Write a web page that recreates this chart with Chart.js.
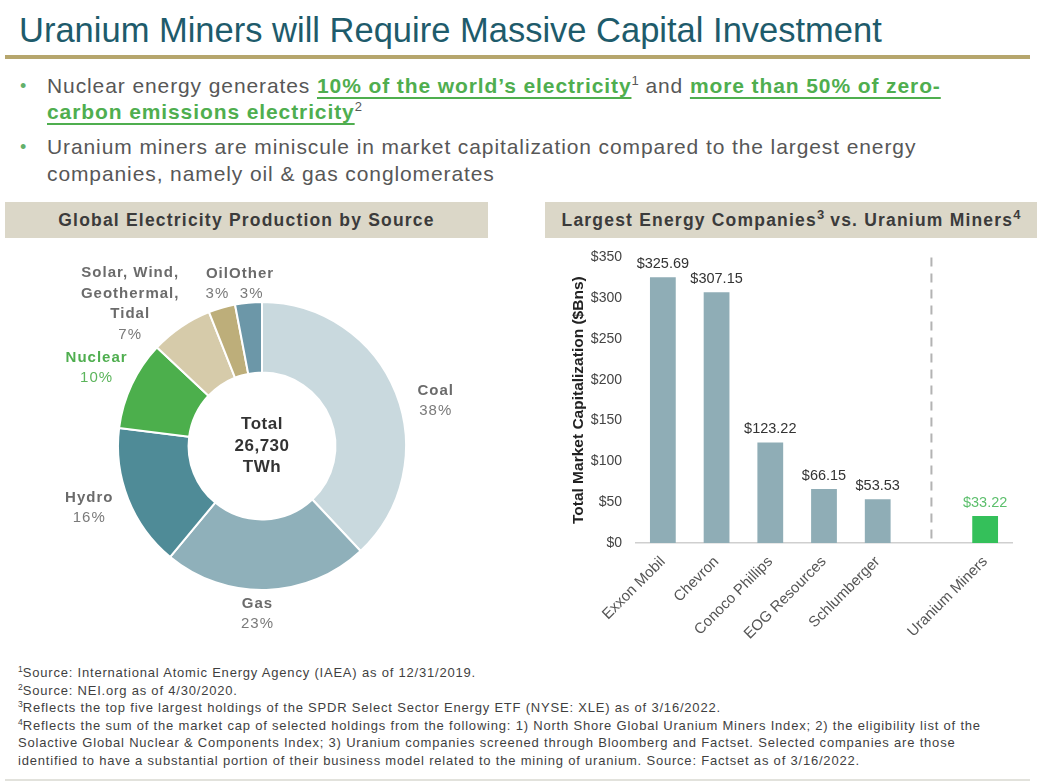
<!DOCTYPE html>
<html>
<head>
<meta charset="utf-8">
<script src="https://cdn.jsdelivr.net/npm/chart.js@4.4.0/dist/chart.umd.min.js"></script>
<style>
  body { margin: 0; background: #fff; font-family: "Liberation Sans", Arial, sans-serif; }
  #page { position: relative; width: 1048px; height: 782px; overflow: hidden; }
  .abs { position: absolute; white-space: nowrap; }
  #title { left: 19px; top: 10px; font-size: 34.5px; line-height: 40px; color: #1e5b6b; }
  #rule { left: 5px; top: 55px; width: 1025px; height: 4px; background: #b6a66d; }
  .bl { left: 47px; font-size: 21px; line-height: 26px; color: #575757; letter-spacing: 0.9px; }
  .dot { left: 20px; font-size: 18px; line-height: 26px; color: #63b06b; }
  .hl { color: #4fae4f; font-weight: bold; text-decoration: underline; text-decoration-thickness: 2px; text-underline-offset: 4px; }
  sup { font-size: 13px; line-height: 0; letter-spacing: 0; }
  .hdr { top: 202px; height: 36px; line-height: 36px; background: #dbd7c8; text-align: center;
         font-weight: bold; font-size: 17.5px; color: #3b3b3b; letter-spacing: 1.2px; }
  #notes { left: 18px; top: 664px; font-size: 13px; line-height: 17.5px; color: #3f3f3f; letter-spacing: 0.8px; }
  #notes sup { font-size: 8.5px; }
  #botline { left: 5px; top: 779px; width: 1025px; height: 2px; background: #e2e2dc; }
</style>
</head>
<body>
<div id="page">
  <div id="title" class="abs">Uranium Miners will Require Massive Capital Investment</div>
  <div id="rule" class="abs"></div>

  <div class="abs dot" style="top:73px">•</div>
  <div class="abs bl" style="top:73px">Nuclear energy generates <span class="hl">10% of the world’s electricity</span><sup>1</sup> and <span class="hl">more than 50% of zero-</span></div>
  <div class="abs bl" style="top:99px"><span class="hl">carbon emissions electricity</span><sup>2</sup></div>
  <div class="abs dot" style="top:134px">•</div>
  <div class="abs bl" style="top:134px">Uranium miners are miniscule in market capitalization compared to the largest energy</div>
  <div class="abs bl" style="top:161px">companies, namely oil &amp; gas conglomerates</div>

  <div class="abs hdr" style="left:5px;width:483px">Global Electricity Production by Source</div>
  <div class="abs hdr" style="left:545px;width:492px">Largest Energy Companies<sup>3</sup> vs. Uranium Miners<sup>4</sup></div>

  <div class="abs" style="left:0;top:240px;width:530px;height:410px"><canvas id="donut"></canvas></div>
  <div class="abs" style="left:555px;top:235px;width:475px;height:410px"><canvas id="bars"></canvas></div>

  <div id="notes" class="abs"><sup>1</sup>Source: International Atomic Energy Agency (IAEA) as of 12/31/2019.<br>
<sup>2</sup>Source: NEI.org as of 4/30/2020.<br>
<sup>3</sup>Reflects the top five largest holdings of the SPDR Select Sector Energy ETF (NYSE: XLE) as of 3/16/2022.<br>
<sup>4</sup>Reflects the sum of the market cap of selected holdings from the following: 1) North Shore Global Uranium Miners Index; 2) the eligibility list of the<br>
Solactive Global Nuclear &amp; Components Index; 3) Uranium companies screened through Bloomberg and Factset. Selected companies are those<br>
identified to have a substantial portion of their business model related to the mining of uranium. Source: Factset as of 3/16/2022.</div>
  <div id="botline" class="abs"></div>
</div>

<script>
// donut data
const sourceNames = [["Coal"], ["Gas"], ["Hydro"], ["Nuclear"], ["Solar, Wind,", "Geothermal,", "Tidal"], ["Oil"], ["Other"]];
const sourceShares = [38, 23, 16, 10, 7, 3, 3];
const sourceColors = ["#c9d9de", "#8fb0ba", "#4f8b97", "#4caf4c", "#d6cbaa", "#bdae7a", "#6c97a8"];
const centerLines = ["Total", "26,730", "TWh"];

// bar data
const companies = ["Exxon Mobil", "Chevron", "Conoco Phillips", "EOG Resources", "Schlumberger", "", "Uranium Miners"];
const marketCaps = [325.69, 307.15, 123.22, 66.15, 53.53, null, 33.22];
const barColors = ["#8fadb6", "#8fadb6", "#8fadb6", "#8fadb6", "#8fadb6", "#8fadb6", "#34c05a"];
const yTicks = [0, 50, 100, 150, 200, 250, 300, 350];

const FONT = "'Liberation Sans', Arial, sans-serif";

// label nudges from the ring, by slice
const labelNudge = [[12, 19], [-10, -6], [-11, -2], [-8, -4], [-34, 2], [4, 5], [6, 11]];

const donutLabels = {
  id: "donutLabels",
  afterDraw(chart) {
    const ctx = chart.ctx;
    const meta = chart.getDatasetMeta(0);
    ctx.save();
    ctx.textAlign = "center";
    ctx.textBaseline = "middle";
    ctx.letterSpacing = "1px";
    meta.data.forEach((arc, i) => {
      const mid = (arc.startAngle + arc.endAngle) / 2;
      const r = arc.outerRadius + 30;
      const x = arc.x + Math.cos(mid) * r + labelNudge[i][0];
      const y = arc.y + Math.sin(mid) * r + labelNudge[i][1];
      const lines = sourceNames[i];
      const lh = 20.5;
      let yy = y - (lines.length) * lh / 2;
      const green = sourceNames[i][0] === "Nuclear";
      ctx.fillStyle = green ? "#4fae4f" : "#6b6b6b";
      ctx.font = "bold 15px " + FONT;
      lines.forEach((t) => { ctx.fillText(t, x, yy); yy += lh; });
      ctx.fillStyle = green ? "#5cb55c" : "#7a7a7a";
      ctx.font = "15px " + FONT;
      ctx.fillText(sourceShares[i] + "%", x, yy);
    });
    const c = meta.data[0];
    ctx.letterSpacing = "0.5px";
    ctx.fillStyle = "#333";
    ctx.font = "bold 17px " + FONT;
    ctx.fillText(centerLines[0], c.x, c.y - 22);
    ctx.fillText(centerLines[1], c.x, c.y);
    ctx.fillText(centerLines[2], c.x, c.y + 21);
    ctx.restore();
  }
};

new Chart(document.getElementById("donut"), {
  type: "doughnut",
  data: {
    labels: sourceNames.map((n) => n.join(" ")),
    datasets: [{
      data: sourceShares,
      backgroundColor: sourceColors,
      borderColor: "#ffffff",
      borderWidth: 2
    }]
  },
  options: {
    responsive: true,
    maintainAspectRatio: false,
    animation: false,
    cutout: "51%",
    layout: { padding: { left: 117, right: 123, top: 61, bottom: 59 } },
    plugins: { legend: { display: false }, tooltip: { enabled: false } }
  },
  plugins: [donutLabels]
});

const barValues = {
  id: "barValues",
  afterDatasetsDraw(chart) {
    const ctx = chart.ctx;
    const meta = chart.getDatasetMeta(0);
    ctx.save();
    ctx.textAlign = "center";
    ctx.textBaseline = "bottom";
    ctx.font = "14.5px " + FONT;
    meta.data.forEach((bar, i) => {
      if (marketCaps[i] == null) return;
      ctx.fillStyle = i === companies.length - 1 ? "#5cbf6c" : "#333";
      ctx.fillText("$" + marketCaps[i].toFixed(2), bar.x, bar.y - 6);
    });
    // dashed divider on the empty slot
    const xs = chart.scales.x;
    const gap = companies.indexOf("");
    const x = xs.getPixelForValue(gap);
    ctx.strokeStyle = "#b3b3b3";
    ctx.lineWidth = 2;
    ctx.setLineDash([9, 7]);
    ctx.beginPath();
    ctx.moveTo(x, chart.chartArea.top);
    ctx.lineTo(x, chart.chartArea.bottom);
    ctx.stroke();
    ctx.restore();
  }
};

new Chart(document.getElementById("bars"), {
  type: "bar",
  data: {
    labels: companies,
    datasets: [{
      data: marketCaps,
      backgroundColor: barColors,
      barPercentage: 0.48,
      categoryPercentage: 1
    }]
  },
  options: {
    responsive: true,
    maintainAspectRatio: false,
    animation: false,
    layout: { padding: { top: 10, right: 18, left: 0, bottom: 0 } },
    plugins: { legend: { display: false }, tooltip: { enabled: false } },
    scales: {
      x: {
        grid: { display: false, drawTicks: false },
        border: { display: true, color: "#cfcfcf", width: 1.5 },
        ticks: { color: "#555", font: { family: FONT, size: 15 }, minRotation: 45, maxRotation: 45, padding: 10, autoSkip: false },
        afterFit: (s) => { s.height = 102; }
      },
      y: {
        min: 0,
        max: 350,
        afterBuildTicks: (s) => { s.ticks = yTicks.map((v) => ({ value: v })); },
        grid: { display: false, drawTicks: false },
        border: { display: false },
        ticks: { color: "#444", font: { family: FONT, size: 14 }, padding: 14, callback: (v) => "$" + v },
        title: { display: true, text: "Total Market Capitalization ($Bns)", color: "#222",
                 font: { family: FONT, size: 15.5, weight: "bold" }, padding: { top: 14, bottom: 0 } },
        afterFit: (s) => { s.width = 81; }
      }
    }
  },
  plugins: [barValues]
});
</script>
</body>
</html>
